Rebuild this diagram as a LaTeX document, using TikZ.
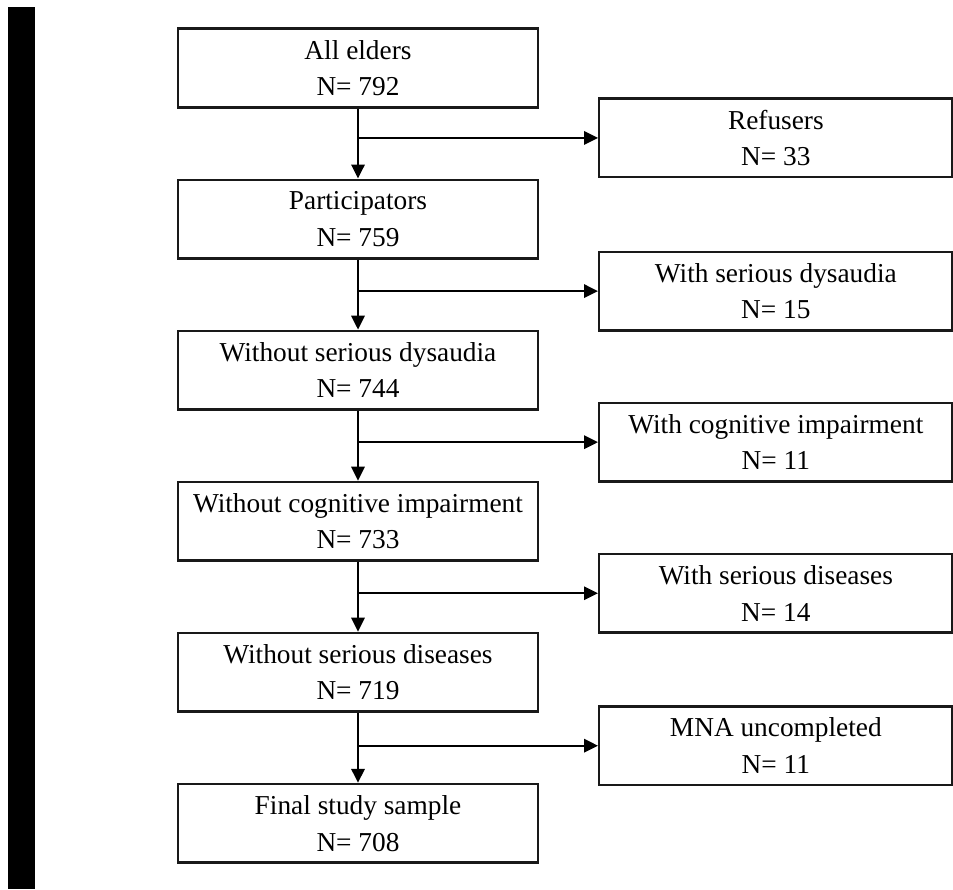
\documentclass[tikz,border=0pt]{standalone}
\usepackage{fontspec}
\setmainfont{Liberation Serif}
\usetikzlibrary{positioning,arrows.meta,calc}
\tikzset{
  krok/.style={draw=black!90,line width=1.8pt,minimum width=270pt,minimum height=59pt,align=center,inner sep=2pt},
  vyrazeni/.style={draw=black!90,line width=1.8pt,minimum width=265pt,minimum height=59pt,align=center,inner sep=2pt},
  sipka/.style={-{Triangle[length=10.5pt,width=10pt]},line width=1.7pt},
}
\begin{document}
\begin{tikzpicture}[x=0.75pt,y=-0.75pt,node distance=52.5pt and 180pt,font=\fontsize{20.5pt}{27.5pt}\selectfont]
  \useasboundingbox (0,0) rectangle (953,889);
  \fill (8,7) rectangle (35,889);
  % hlavni tok
  \node[krok] (all) at (358,68) {All elders\\N= 792};
  \node[krok,below=of all] (part) {Participators\\N= 759};
  \node[krok,below=of part] (bezslu) {Without serious dysaudia\\N= 744};
  \node[krok,below=of bezslu] (bezkog) {Without cognitive impairment\\N= 733};
  \node[krok,below=of bezkog] (beznem) {Without serious diseases\\N= 719};
  \node[krok,below=of beznem] (final) {Final study sample\\N= 708};
  % odbocky
  \coordinate (r1) at ($(all.south)!.42!(part.north)$);
  \coordinate (r2) at ($(part.south)!.45!(bezslu.north)$);
  \coordinate (r3) at ($(bezslu.south)!.45!(bezkog.north)$);
  \coordinate (r4) at ($(bezkog.south)!.45!(beznem.north)$);
  \coordinate (r5) at ($(beznem.south)!.47!(final.north)$);
  \node[vyrazeni,right=of r1] (ref) {Refusers\\N= 33};
  \node[vyrazeni,right=of r2] (slu) {With serious dysaudia\\N= 15};
  \node[vyrazeni,right=of r3] (kog) {With cognitive impairment\\N= 11};
  \node[vyrazeni,right=of r4] (nem) {With serious diseases\\N= 14};
  \node[vyrazeni,right=of r5] (mna) {MNA uncompleted\\N= 11};
  \draw[sipka] (all) -- (part); \draw[sipka] (r1) -- (ref);
  \draw[sipka] (part) -- (bezslu); \draw[sipka] (r2) -- (slu);
  \draw[sipka] (bezslu) -- (bezkog); \draw[sipka] (r3) -- (kog);
  \draw[sipka] (bezkog) -- (beznem); \draw[sipka] (r4) -- (nem);
  \draw[sipka] (beznem) -- (final); \draw[sipka] (r5) -- (mna);
\end{tikzpicture}
\end{document}
